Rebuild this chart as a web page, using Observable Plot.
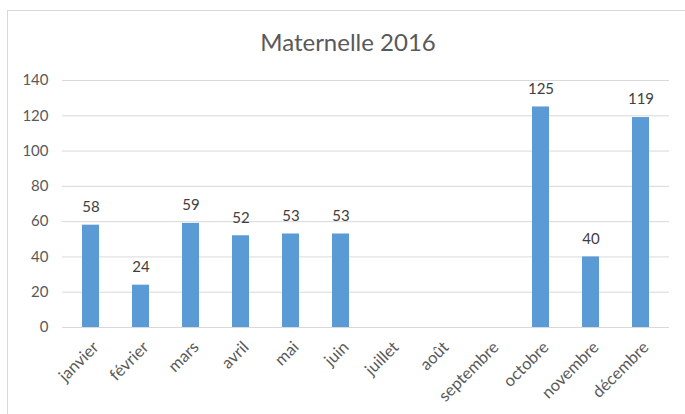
<!DOCTYPE html>
<html>
<head>
<meta charset="utf-8">
<script src="https://cdn.jsdelivr.net/npm/d3@7"></script>
<script src="https://cdn.jsdelivr.net/npm/@observablehq/plot@0.6"></script>
<style>
  body { margin: 0; background: #fff; font-family: Lato, "Open Sans", sans-serif; }
  #frame { position: absolute; left: 7px; top: 10px; width: 700px; height: 420px; border: 1px solid #d9d9d9; box-sizing: border-box; }
  #title { position: absolute; left: 0; top: 27px; width: 696px; text-align: center; font-size: 24px; color: #595959; font-family: Lato, sans-serif; font-weight: 400; }
  #chart { position: absolute; left: 0; top: 60px; }
</style>
</head>
<body>
<div id="frame"></div>
<div id="title">Maternelle 2016</div>
<div id="chart"></div>
<script>
const months = ["janvier","février","mars","avril","mai","juin","juillet","août","septembre","octobre","novembre","décembre"];
const values = [58, 24, 59, 52, 53, 53, null, null, null, 125, 40, 119];
const yTicks = [0, 20, 40, 60, 80, 100, 120, 140];

const data = months.map((m, i) => ({month: m, value: values[i]})).filter(d => d.value != null);

const chart = Plot.plot({
  width: 685,
  height: 354,
  marginLeft: 62,
  marginRight: 16,
  marginTop: 20,
  marginBottom: 87,
  style: {fontFamily: "Lato, sans-serif", fontSize: "14px", color: "#595959", background: "transparent"},
  x: {domain: months, paddingInner: 0.66, paddingOuter: 0.33, label: null},
  y: {domain: [0, 140], label: null},
  marks: [
    Plot.gridY(yTicks, {stroke: "#d9d9d9", strokeOpacity: 1, strokeWidth: 1}),
    Plot.axisY({ticks: yTicks, tickSize: 0, tickPadding: 14, fontSize: 15, fill: "#595959"}),
    Plot.axisX({tickSize: 0, tickRotate: -45, tickPadding: 12, dx: 5, dy: 5, fontSize: 16.5, fill: "#595959"}),
    Plot.barY(data, {x: "month", y: "value", fill: "#5B9BD5"}),
    Plot.ruleY([0], {stroke: "#d9d9d9"}),
    Plot.text(data, {x: "month", y: "value", text: d => String(d.value), dy: -18, fontSize: 15, fill: "#404040"})
  ]
});
document.getElementById("chart").appendChild(chart);
</script>
</body>
</html>
